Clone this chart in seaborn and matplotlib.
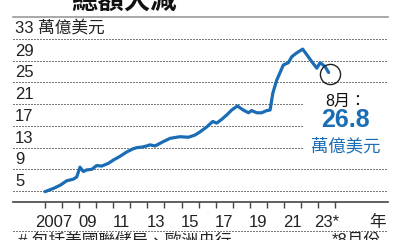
import numpy as np
import pandas as pd
import matplotlib
matplotlib.use("Agg")
import matplotlib.pyplot as plt
from matplotlib.lines import Line2D
import seaborn as sns

# ---- data (fractional year, trillion USD) ----
years = [2007.0, 2007.5, 2007.9, 2008.27, 2008.66, 2008.86, 2009.05, 2009.25, 2009.44, 2009.74,
         2010.03, 2010.32, 2010.71, 2011.0, 2011.4, 2011.79, 2012.18, 2012.4, 2012.7, 2012.96,
         2013.15, 2013.45, 2013.93, 2014.33, 2014.91, 2015.4, 2015.79, 2016.09, 2016.48, 2016.83,
         2017.06, 2017.36, 2017.65, 2017.94, 2018.27, 2018.62, 2018.92, 2019.11, 2019.41, 2019.7,
         2019.99, 2020.19, 2020.35, 2020.58, 2020.97, 2021.26, 2021.46, 2021.75, 2022.1, 2022.38,
         2022.63, 2022.93, 2023.12, 2023.41, 2023.62]
values = [4.9, 5.5, 6.1, 6.9, 7.2, 7.6, 9.4, 8.6, 8.9, 9.0,
          9.7, 9.6, 10.1, 10.7, 11.4, 12.2, 12.8, 13.0, 13.1, 13.3,
          13.5, 13.3, 14.1, 14.7, 15.0, 14.9, 15.3, 15.9, 16.8, 17.8,
          17.5, 18.2, 19.0, 19.9, 20.65, 19.9, 19.4, 19.8, 19.4, 19.4,
          19.8, 19.9, 23.0, 25.4, 28.2, 28.6, 29.7, 30.4, 31.1, 29.9,
          28.8, 27.6, 28.6, 27.9, 26.8]
ytick_vals = [33, 29, 25, 21, 17, 13, 9, 5]
ytick_labels = ["33 萬億美元", "29", "25", "21", "17", "13", "9", "5"]
xlabel_years = [2007, 2009, 2011, 2013, 2015, 2017, 2019, 2021, 2023]
xlabel_texts = ["2007", "09", "11", "13", "15", "17", "19", "21", "23*"]
year_unit = "年"
title = "總額大減"
footnote_left = "# 包括美國聯儲局、歐洲央行"
footnote_right = "*8月份"
last_month = "8月："
last_value = "26.8"
unit = "萬億美元"

BLUE = "#1a6db5"
GRID = "#7a7a7a"
sns.set_theme(style="white")
plt.rcParams["font.family"] = ["Liberation Sans", "Noto Sans CJK TC", "DejaVu Sans"]
plt.rcParams["lines.scale_dashes"] = False

fig = plt.figure(figsize=(4, 2.4), dpi=100)
ax = fig.add_axes([13/400, 1-202/240, 375/400, 185/240])
XMIN, XMAX = 2005.125, 2027.1
ax.set_xlim(XMIN, XMAX)
ax.set_ylim(3, 37)

df = pd.DataFrame({"year": years, "value": values})

# gridlines (some interrupted by annotation)
for v in ytick_vals:
    xm = 2022.06 if v in (21, 17, 13) else XMAX
    ax.plot([XMIN, xm], [v, v], color=GRID, linestyle=(0, (1.2, 1.2)), linewidth=1.0,
            zorder=1, antialiased=False)
for v, lab in zip(ytick_vals, ytick_labels):
    ax.text(2005.25, v + 0.35, lab, ha="left", va="bottom", fontsize=12, color="#222222")

sns.lineplot(data=df, x="year", y="value", ax=ax, color=BLUE, linewidth=2.3, zorder=3)
ax.plot([2023.72], [26.5], marker="o", markersize=14.5, mfc="none", mec="#222222",
        mew=1.0, zorder=4)

# annotation
ax.text(2024.6, 21.4, last_month, ha="center", va="center", fontsize=11.5, color="#111111")
ax.text(2024.6, 18.0, last_value, ha="center", va="center", fontsize=18, fontweight="bold",
        color=BLUE)
ax.text(2024.6, 13.3, unit, ha="center", va="center", fontsize=12.5, color=BLUE)

# axes styling
for s in ["left", "right"]:
    ax.spines[s].set_visible(False)
ax.spines["top"].set_color("#9a9a9a")
ax.spines["top"].set_linewidth(1.2)
ax.spines["bottom"].set_color("#444444")
ax.spines["bottom"].set_linewidth(1.2)
ax.set_yticks([])
ax.set_xticks(np.arange(2007, 2025), labels=[""] * 18)
ax.tick_params(axis="x", which="major", direction="out", length=4, width=1, color="#444444",
               bottom=True)
ax.set_xticks([y + 0.5 for y in xlabel_years] + [2026.5],
              labels=xlabel_texts + [year_unit], minor=True)
ax.tick_params(axis="x", which="minor", length=0, pad=9.5, labelsize=12, labelcolor="#222222")
ax.set_xlabel("")
ax.set_ylabel("")

# title, separators, footnotes
fig.text(124/400, 1 - 9/240, title, ha="center", va="baseline", fontsize=19,
         fontweight="bold", color="#111111")
fig.add_artist(Line2D([13/400, 388/400], [1 - 231/240] * 2, color=GRID,
                      linestyle=(0, (1.2, 1.2)), linewidth=1.0, antialiased=False))
fig.text(18/400, 1 - 233/240, footnote_left, ha="left", va="top", fontsize=12, color="#222222")
fig.text(381/400, 1 - 233/240, footnote_right, ha="right", va="top", fontsize=12, color="#222222")

fig.savefig("out.png", dpi=100)
